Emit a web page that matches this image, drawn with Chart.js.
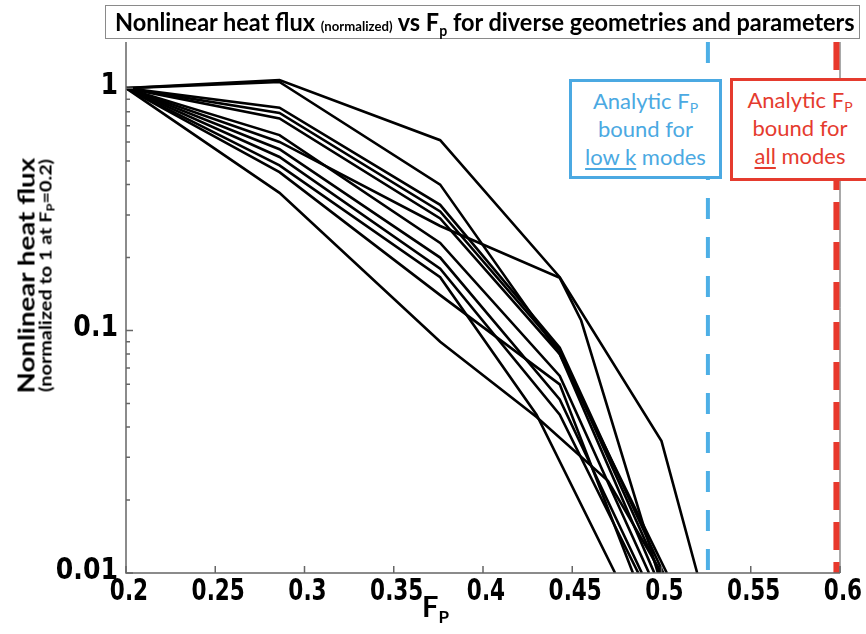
<!DOCTYPE html>
<html><head><meta charset="utf-8">
<script src="https://cdn.jsdelivr.net/npm/chart.js@4/dist/chart.umd.min.js"></script>
<style>
html,body{margin:0;padding:0;background:#fff;overflow:hidden;}
#wrap{position:relative;width:866px;height:634px;overflow:hidden;}
canvas{position:absolute;left:0;top:0;}
.ov{position:absolute;white-space:nowrap;}
.fit{display:inline-block;transform-origin:0 50%;}
#title{left:105px;top:5px;width:755px;height:34px;box-sizing:border-box;border:1.5px solid #8a8a8a;background:#fff;
  font-family:Lato,sans-serif;font-weight:700;font-size:25px;line-height:31px;color:#000;}
#title .fit{position:absolute;left:9px;top:0;}
#title small{font-size:14px;}
#title sub{font-size:15px;vertical-align:-5px;line-height:0;}
#ytitle{left:-96px;top:256px;width:260px;text-align:center;transform:rotate(-90deg);font-family:Lato,sans-serif;font-weight:700;color:#000;}
#ytitle .l1{font-size:23px;line-height:22px;}
#ytitle .l2{font-size:17px;line-height:17px;}
#ytitle .fit{transform-origin:50% 50%;}
#ytitle sub{font-size:11px;vertical-align:-3px;line-height:0;}
#xtitle{left:422px;top:590px;font-family:Lato,sans-serif;font-weight:700;font-size:29px;line-height:32px;color:#000;}
#xtitle sub{font-size:17px;vertical-align:-6px;line-height:0;}
.box{position:absolute;box-sizing:border-box;background:#fff;text-align:center;font-family:Lato,sans-serif;font-size:22px;line-height:28px;padding-top:5px;}
.box sub{font-size:14px;vertical-align:-4px;line-height:0;}
.box u{text-decoration-thickness:2px;text-underline-offset:3px;}
#boxLow{left:569px;top:79px;width:153px;height:100px;border:3px solid #4ba9e2;color:#4ba9e2;}
#boxAll{left:730px;top:78px;width:140px;height:103px;border:3px solid #e53b2e;color:#e53b2e;}
</style></head><body>
<div id="wrap">
<canvas id="c" width="866" height="634"></canvas>
<div id="title" class="ov"><span class="fit" data-w="740">Nonlinear heat flux <small>(normalized)</small> vs F<sub>p</sub> for diverse geometries and parameters</span></div>
<div id="ytitle" class="ov">
  <div class="l1"><span class="fit" data-w="236">Nonlinear heat flux</span></div>
  <div class="l2"><span class="fit" data-w="233">(normalized to 1 at F<sub>P</sub>=0.2)</span></div>
</div>
<div id="xtitle" class="ov">F<sub>P</sub></div>
<div id="boxLow" class="box">Analytic F<sub>P</sub><br>bound for<br><u>low k</u> modes</div>
<div id="boxAll" class="box">Analytic F<sub>P</sub><br>bound for<br><u>all</u> modes</div>
</div>
<script>
// ---- data ----
const fpTicks = [0.2, 0.25, 0.3, 0.35, 0.4, 0.45, 0.5, 0.55, 0.6];
const fluxTicks = [0.01, 0.1, 1];
const boundLowK = 0.526;   // analytic F_P bound for low k modes
const boundAll = 0.598;    // analytic F_P bound for all modes

const curve01 = [[0.2,1],[0.286,1.08],[0.376,0.61],[0.443,0.166],[0.5,0.035],[0.52,0.01]];
const curve02 = [[0.2,1],[0.286,1.06],[0.376,0.40],[0.443,0.08],[0.503,0.01]];
const curve03 = [[0.2,1],[0.286,0.83],[0.376,0.33],[0.443,0.085],[0.501,0.01]];
const curve04 = [[0.2,1],[0.286,0.79],[0.376,0.31],[0.443,0.083],[0.499,0.01]];
const curve05 = [[0.2,1],[0.286,0.75],[0.376,0.29],[0.443,0.08],[0.496,0.01]];
const curve06 = [[0.2,1],[0.286,0.60],[0.376,0.27],[0.443,0.165],[0.455,0.11],[0.498,0.01]];
const curve07 = [[0.2,1],[0.286,0.64],[0.376,0.23],[0.443,0.065],[0.493,0.01]];
const curve08 = [[0.2,1],[0.286,0.56],[0.376,0.20],[0.443,0.052],[0.489,0.01]];
const curve09 = [[0.2,1],[0.286,0.52],[0.376,0.18],[0.443,0.045],[0.487,0.01]];
const curve10 = [[0.2,1],[0.286,0.48],[0.376,0.166],[0.43,0.045],[0.474,0.01]];
const curve11 = [[0.2,1],[0.286,0.37],[0.376,0.09],[0.43,0.044],[0.47,0.024],[0.5,0.01]];
const curve12 = [[0.2,1],[0.286,0.45],[0.376,0.14],[0.443,0.06],[0.484,0.01]];
const curves = [curve01,curve02,curve03,curve04,curve05,curve06,curve07,curve08,curve09,curve10,curve11,curve12];

const labelFont = 'bold 30px "DejaVu Sans", sans-serif';

function drawLabel(ctx, text, x, y, sx, align){
  ctx.save();
  ctx.translate(x, y);
  ctx.scale(sx, 1);
  ctx.textAlign = align; ctx.textBaseline = 'middle';
  ctx.fillText(text, 0, 0);
  ctx.restore();
}

const decoPlugin = {
  id:'deco',
  afterDatasetsDraw(chart){
    const {ctx, chartArea:a, scales:{x, y}} = chart;
    ctx.save();
    ctx.lineCap = 'butt';
    ctx.setLineDash([21,18]);
    ctx.strokeStyle = '#4dafe6'; ctx.lineWidth = 4;
    let px = x.getPixelForValue(boundLowK);
    ctx.beginPath(); ctx.moveTo(px, a.top); ctx.lineTo(px, a.bottom); ctx.stroke();
    ctx.setLineDash([]);
    ctx.strokeStyle = '#555'; ctx.lineWidth = 1;
    ctx.beginPath(); ctx.moveTo(a.right, a.top); ctx.lineTo(a.right, a.bottom); ctx.stroke();
    ctx.setLineDash([28,12]);
    ctx.strokeStyle = '#e8382c'; ctx.lineWidth = 6;
    px = x.getPixelForValue(boundAll);
    ctx.beginPath(); ctx.moveTo(px, a.top); ctx.lineTo(px, a.bottom); ctx.stroke();
    ctx.setLineDash([]);
    ctx.strokeStyle = '#666'; ctx.lineWidth = 1.5;
    ctx.beginPath(); ctx.moveTo(a.left, a.top); ctx.lineTo(a.left, a.bottom); ctx.lineTo(a.right, a.bottom); ctx.stroke();
    ctx.beginPath();
    x.ticks.forEach(t => { const p = x.getPixelForValue(t.value); ctx.moveTo(p, a.bottom); ctx.lineTo(p, a.bottom - 7); });
    fluxTicks.forEach(d => {
      for (let m = 1; m <= 9; m++) {
        const v = d * m;
        if (v > y.max) break;
        const p = y.getPixelForValue(v);
        ctx.moveTo(a.left, p); ctx.lineTo(a.left + (m === 1 ? 7 : 4), p);
      }
    });
    ctx.stroke();
    // tick labels (positions from the library's scales)
    ctx.fillStyle = '#000'; ctx.font = labelFont;
    x.ticks.forEach(t => drawLabel(ctx, t.label, x.getPixelForValue(t.value) + 3, a.bottom + 19, 0.72, 'center'));
    y.ticks.forEach(t => drawLabel(ctx, t.label, a.left - 8, y.getPixelForValue(t.value) - 2, 0.84, 'right'));
    ctx.restore();
  }
};

new Chart(document.getElementById('c'), {
  type:'line',
  data:{ datasets: curves.map(c => ({
    data: c.map(p => ({x:p[0], y:p[1]})),
    borderColor:'#000', borderWidth:2.6, pointRadius:0, tension:0, fill:false
  })) },
  options:{
    responsive:false, animation:false, devicePixelRatio:1,
    layout:{padding:{top:42, right:26, left:0, bottom:0}},
    plugins:{legend:{display:false}, tooltip:{enabled:false}, title:{display:false}},
    scales:{
      x:{type:'linear', min:0.2, max:0.6, border:{display:false},
        grid:{display:false, drawTicks:false},
        afterBuildTicks:s => { s.ticks = fpTicks.map(v => ({value:v})); },
        afterFit:s => { s.height = 61; },
        ticks:{display:false, callback:v => String(v)}},
      y:{type:'logarithmic', min:0.01, max:1.55, border:{display:false},
        grid:{display:false, drawTicks:false},
        afterBuildTicks:s => { s.ticks = fluxTicks.map(v => ({value:v})); },
        afterFit:s => { s.width = 126; },
        ticks:{display:false, callback:v => String(v)}}
    }
  },
  plugins:[decoPlugin]
});

document.querySelectorAll('.fit').forEach(el => {
  const w = el.offsetWidth, t = +el.dataset.w;
  if (w > 0 && t) el.style.transform = 'scaleX(' + (t / w) + ')';
});
</script>
</body></html>
